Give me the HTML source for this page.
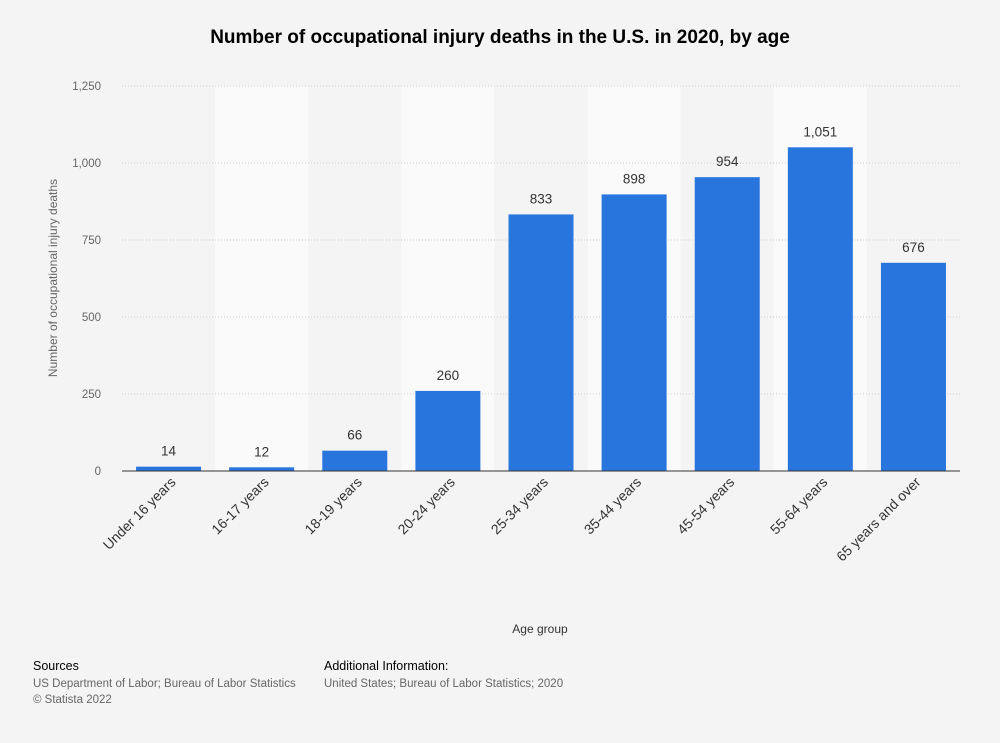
<!DOCTYPE html>
<html><head><meta charset="utf-8"><style>
body{margin:0;background:#f4f4f4;font-family:"Liberation Sans",sans-serif;}
svg{display:block}
</style></head><body>
<svg width="1000" height="743">
<rect width="1000" height="743" fill="#f4f4f4"/>
<text x="500" y="43" text-anchor="middle" font-size="19" font-weight="bold" fill="#000">Number of occupational injury deaths in the U.S. in 2020, by age</text>
<g id="plot"></g>
<text transform="translate(57,278) rotate(-90)" text-anchor="middle" font-size="12" fill="#666">Number of occupational injury deaths</text>
<text x="540" y="633" text-anchor="middle" font-size="12" fill="#333">Age group</text>
<g font-size="12.5">
<text x="33" y="670" fill="#000">Sources</text>
<text x="33" y="687" fill="#666" font-size="11.5">US Department of Labor; Bureau of Labor Statistics</text>
<text x="33" y="703" fill="#666" font-size="11.5">© Statista 2022</text>
<text x="324" y="670" fill="#000">Additional Information:</text>
<text x="324" y="687" fill="#666" font-size="11.5">United States; Bureau of Labor Statistics; 2020</text>
</g>
</svg>
<script>
const categories=["Under 16 years","16-17 years","18-19 years","20-24 years","25-34 years","35-44 years","45-54 years","55-64 years","65 years and over"];
const values=[14,12,66,260,833,898,954,1051,676];
const valueLabels=["14","12","66","260","833","898","954","1,051","676"];
const yTicks=[0,250,500,750,1000,1250];
const yTickLabels=["0","250","500","750","1,000","1,250"];
const NS="http://www.w3.org/2000/svg";
const g=document.getElementById('plot');
const x0=122,x1=960,yB=471,yT=86,yMax=1250;
const bw=(x1-x0)/categories.length;
const y=v=>yB-(v/yMax)*(yB-yT);
const xc=i=>x0+bw*(i+0.5);
function mk(t,a){const e=document.createElementNS(NS,t);for(const k in a)e.setAttribute(k,a[k]);g.appendChild(e);return e;}
categories.forEach((c,i)=>{if(i%2===1){const r=mk('rect',{x:x0+bw*i,y:yT,width:bw,height:yB-yT,fill:'#fafafa'});

}});
yTicks.forEach((t,i)=>{
 if(t>0){const l=mk('line',{x1:x0,x2:x1,y1:y(t),y2:y(t),stroke:'#ccc','stroke-dasharray':'1,2'});
 
 }
 const tx=mk('text',{x:101,y:y(t)+4,'text-anchor':'end','font-size':11.5,fill:'#666'});tx.textContent=yTickLabels[i];
 
 
});
categories.forEach((c,i)=>{
 const b=mk('rect',{x:xc(i)-32.5,y:y(values[i]),width:65,height:yB-y(values[i]),fill:'#2876dd'});
 
 
 const v=mk('text',{x:xc(i),y:y(values[i])-11,'text-anchor':'middle','font-size':13.5,fill:'#333'});v.textContent=valueLabels[i];
 
 
 const xl=mk('text',{transform:`translate(${xc(i)+8},${yB+12}) rotate(-45)`,'text-anchor':'end','font-size':14,fill:'#333'});xl.textContent=c;
 
 
});
const ax=mk('line',{x1:x0,x2:x1,y1:yB,y2:yB,stroke:'#333','stroke-width':1});


</script>
</body></html>
